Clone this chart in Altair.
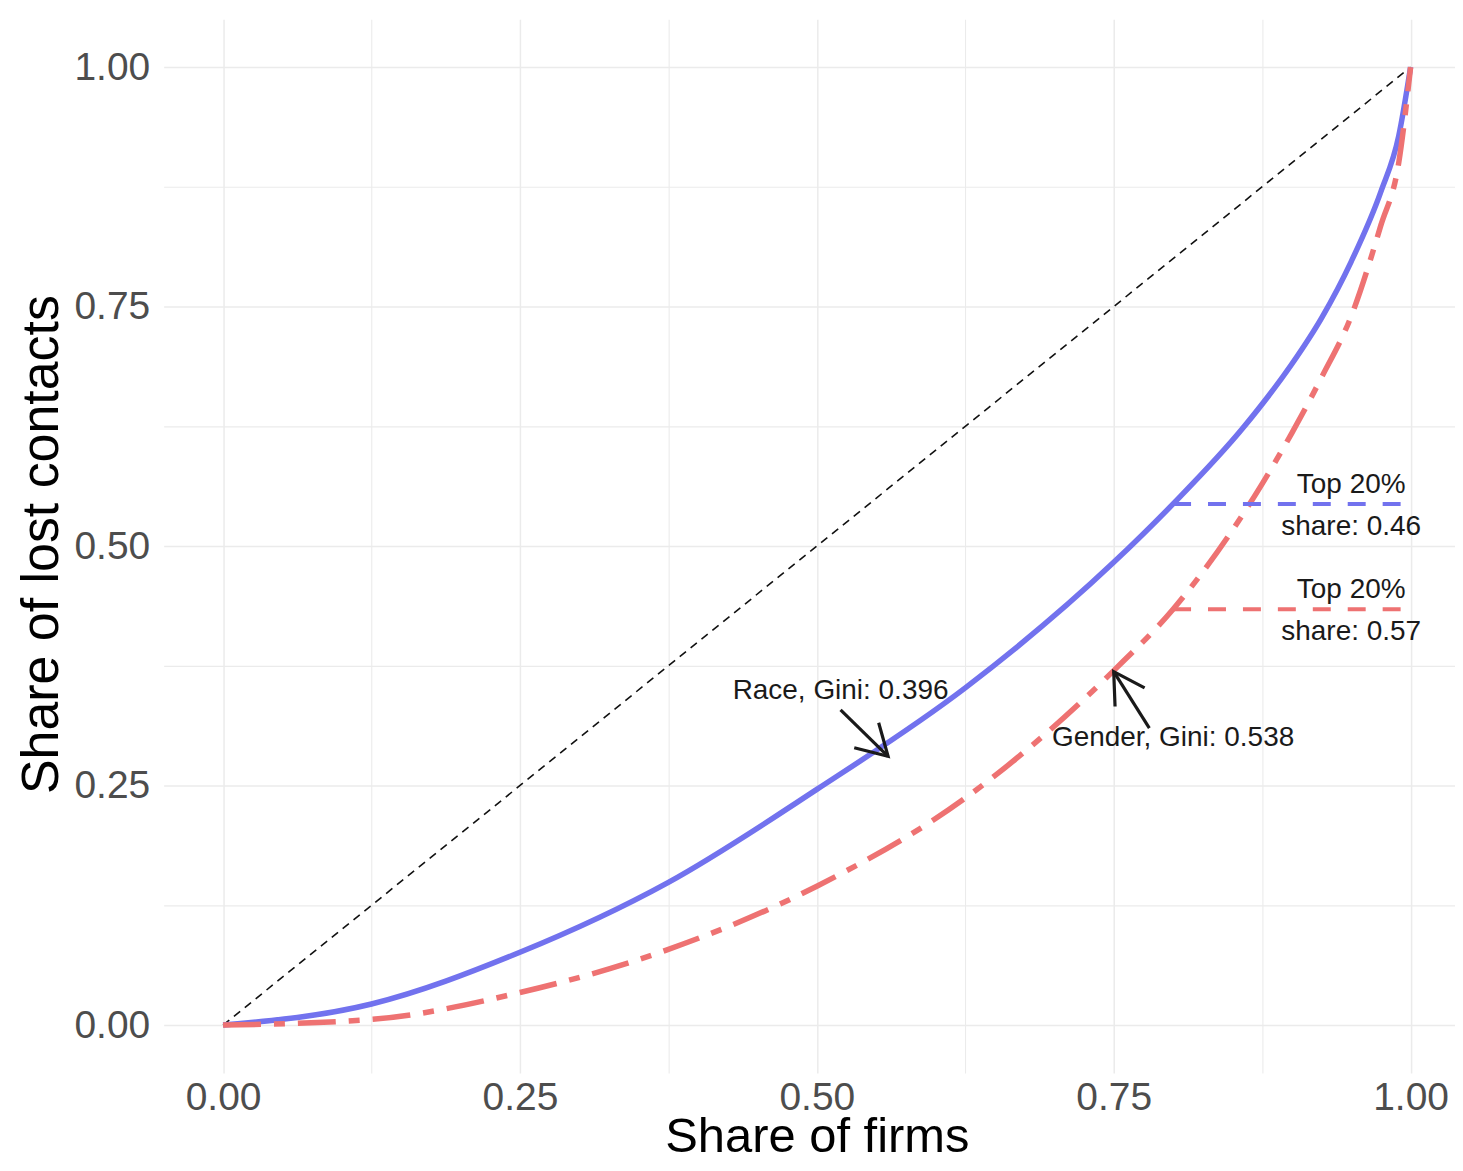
import math
import altair as alt
import pandas as pd

# ---------------- data ----------------
race_firm_share = [0.0, 0.125, 0.25, 0.375, 0.5, 0.625, 0.75, 0.8, 0.86, 0.9, 0.925, 0.95, 0.975, 0.99, 1.0]
race_lost_share = [0.0, 0.022, 0.076, 0.149, 0.246, 0.352, 0.483, 0.544, 0.625, 0.69, 0.738, 0.797, 0.87, 0.928, 1.0]

gender_firm_share = [0.0, 0.125, 0.25, 0.375, 0.5, 0.625, 0.75, 0.8, 0.875, 0.9, 0.925, 0.95, 0.975, 0.99, 1.0]
gender_lost_share = [0.0, 0.006, 0.034, 0.079, 0.145, 0.237, 0.37, 0.434, 0.565, 0.618, 0.676, 0.74, 0.835, 0.9, 1.0]

equality_x = [0.0, 1.0]
equality_y = [0.0, 1.0]

top20_group = ["Race", "Gender"]
top20_start = [0.8, 0.8]
top20_end = [1.0, 1.0]
top20_level = [0.544, 0.434]
top20_label_x = [0.95, 0.95]
top20_line1 = ["Top 20%", "Top 20%"]
top20_line2 = ["share: 0.46", "share: 0.57"]

gini_group = ["Race", "Gender"]
gini_label = ["Race, Gini: 0.396", "Gender, Gini: 0.538"]
gini_label_x = [0.52, 0.80]
gini_label_y = [0.349, 0.300]
arrow_tail_x = [0.520, 0.780]
arrow_tail_y = [0.329, 0.310]
arrow_tip_x = [0.560, 0.750]
arrow_tip_y = [0.2805, 0.369]

axis_ticks = [0.0, 0.125, 0.25, 0.375, 0.5, 0.625, 0.75, 0.875, 1.0]

# ---------------- layout / style ----------------
FONT = "Liberation Sans"
RACE_COLOR = "#7272ee"
GENDER_COLOR = "#ee7272"
W, H = 1294, 1056
PAD_L, PAD_T, PAD_R, PAD_B = 156, 10, 0, 88
PX_X = 1190.0            # pixels per unit on x
PX_Y = H / 1.1           # pixels per unit on y
x_domain = [-0.05, -0.05 + W / PX_X]
y_domain = [-0.05, 1.05]

major_test = "abs(datum.value*4 - round(datum.value*4)) < 0.001"

x_axis = alt.Axis(
    values=axis_ticks,
    labelExpr=f"{major_test} ? format(datum.value, '.2f') : ''",
    grid=True, gridColor="#ebebeb",
    gridWidth={"condition": {"test": major_test, "value": 1.5}, "value": 1.1},
    ticks=False, domain=False,
    labelFont=FONT, labelFontSize=39, labelColor="#4d4d4d", labelPadding=6,
    labelOverlap=False,
    title="Share of firms", titleFont=FONT, titleFontSize=49, titleFontWeight="normal",
    titleColor="#000000", titleX=(0.55 * PX_X), titleY=79,
    titleAlign="center", titleBaseline="alphabetic",
)
y_axis = alt.Axis(
    values=axis_ticks,
    labelExpr=f"{major_test} ? format(datum.value, '.2f') : ''",
    grid=True, gridColor="#ebebeb",
    gridWidth={"condition": {"test": major_test, "value": 1.5}, "value": 1.1},
    ticks=False, domain=False,
    labelFont=FONT, labelFontSize=39, labelColor="#4d4d4d", labelPadding=14,
    labelOverlap=False,
    title="Share of lost contacts", titleFont=FONT, titleFontSize=52, titleFontWeight="normal",
    titleColor="#000000", titleAngle=270, titleX=-106, titleY=H / 2 - 2,
    titleAlign="center", titleBaseline="alphabetic",
)
xs = alt.Scale(domain=x_domain, nice=False, zero=False)
ys = alt.Scale(domain=y_domain, nice=False, zero=False)


def X(f):
    return alt.X(f, type="quantitative", scale=xs, axis=x_axis)


def Y(f):
    return alt.Y(f, type="quantitative", scale=ys, axis=y_axis)


color_scale = alt.Scale(domain=["Race", "Gender"], range=[RACE_COLOR, GENDER_COLOR])

# ---------------- tables ----------------
race_df = pd.DataFrame({"x": race_firm_share, "y": race_lost_share})
gender_df = pd.DataFrame({"x": gender_firm_share, "y": gender_lost_share})
eq_df = pd.DataFrame({"x": equality_x, "y": equality_y})
top_df = pd.DataFrame({"group": top20_group, "x": top20_start, "x2": top20_end, "y": top20_level,
                       "lx": top20_label_x, "l1": top20_line1, "l2": top20_line2})
arrow_angle = []
for tx, ty, hx, hy in zip(arrow_tail_x, arrow_tail_y, arrow_tip_x, arrow_tip_y):
    dx = (hx - tx) * PX_X
    dy = -(hy - ty) * PX_Y
    arrow_angle.append(math.degrees(math.atan2(dx, -dy)) % 360)
ann_df = pd.DataFrame({"label": gini_label, "lx": gini_label_x, "ly": gini_label_y,
                       "tx": arrow_tail_x, "ty": arrow_tail_y, "hx": arrow_tip_x, "hy": arrow_tip_y,
                       "angle": arrow_angle})

# ---------------- layers ----------------
equality = alt.Chart(eq_df).mark_line(color="#111111", strokeWidth=1.6, strokeDash=[8, 6]).encode(
    x=X("x"), y=Y("y"))

race_line = alt.Chart(race_df).mark_line(color=RACE_COLOR, strokeWidth=5.5, interpolate="monotone").encode(
    x=X("x"), y=Y("y"))

gender_line = alt.Chart(gender_df).mark_line(color=GENDER_COLOR, strokeWidth=5.5, interpolate="monotone",
                                             strokeDash=[38, 13, 11, 13]).encode(
    x=X("x"), y=Y("y"))

top_rules = alt.Chart(top_df).mark_rule(strokeWidth=4, strokeDash=[18, 17]).encode(
    x=X("x"), x2=alt.X2("x2"), y=Y("y"),
    color=alt.Color("group:N", scale=color_scale, legend=None))

top_text1 = alt.Chart(top_df).mark_text(font=FONT, fontSize=28, color="#1a1a1a", align="center",
                                        baseline="alphabetic", dy=-11).encode(
    x=X("lx"), y=Y("y"), text="l1:N")
top_text2 = alt.Chart(top_df).mark_text(font=FONT, fontSize=28, color="#1a1a1a", align="center",
                                        baseline="alphabetic", dy=31).encode(
    x=X("lx"), y=Y("y"), text="l2:N")

shafts = alt.Chart(ann_df).mark_rule(color="#1a1a1a", strokeWidth=3.2).encode(
    x=X("tx"), y=Y("ty"), x2=alt.X2("hx"), y2=alt.Y2("hy"))
heads = alt.Chart(ann_df).mark_point(shape="M -0.5 0.866 L 0 0 L 0.5 0.866", filled=False,
                                     color="#1a1a1a", strokeWidth=3.2, size=4900, opacity=1).encode(
    x=X("hx"), y=Y("hy"), angle=alt.Angle("angle:Q", scale=None))
gini_text = alt.Chart(ann_df).mark_text(font=FONT, fontSize=28, color="#1a1a1a", align="center",
                                        baseline="middle").encode(
    x=X("lx"), y=Y("ly"), text="label:N")

chart = alt.layer(
    equality, race_line, gender_line, top_rules, top_text1, top_text2, shafts, heads, gini_text
).properties(
    width=W, height=H,
    autosize=alt.AutoSizeParams(type="none"),
    padding={"left": PAD_L, "top": PAD_T, "right": PAD_R, "bottom": PAD_B},
    background="white",
).configure_view(stroke=None)

chart.save("out.html", embed_options={"renderer": "svg", "actions": False})
